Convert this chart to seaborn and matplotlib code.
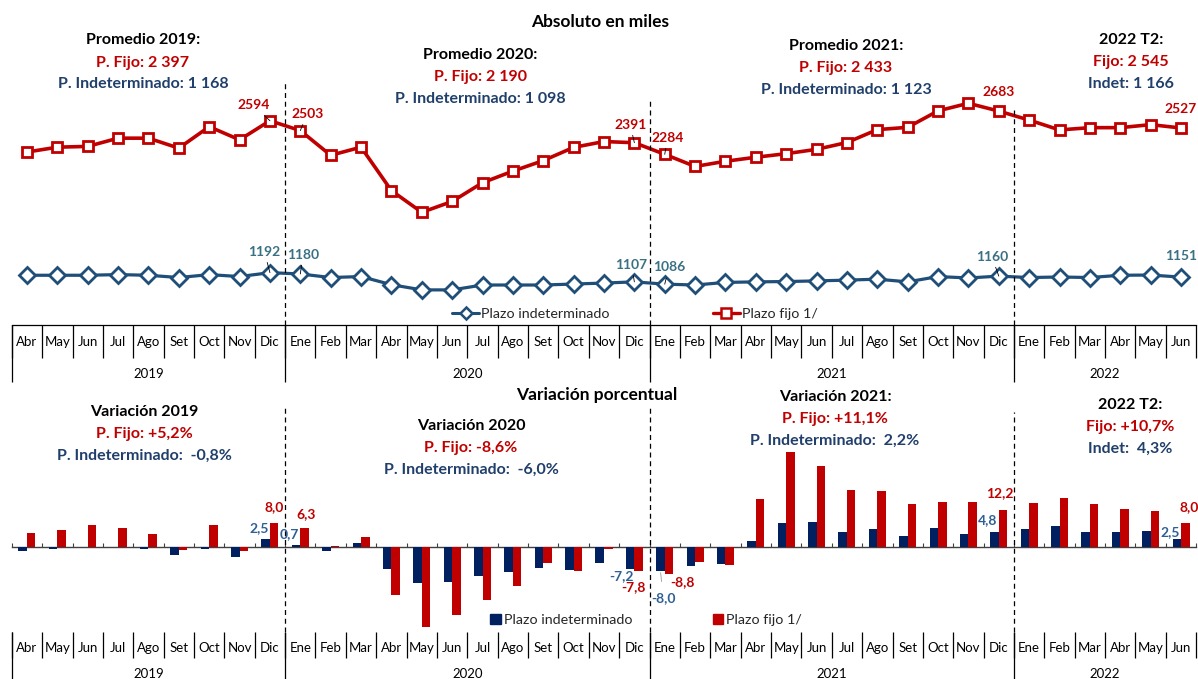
import numpy as np
import pandas as pd
import matplotlib
matplotlib.use("Agg")
import matplotlib.pyplot as plt
import seaborn as sns
from matplotlib.lines import Line2D
from matplotlib.patches import Patch

# ---------------- data ----------------
months = ["Abr", "May", "Jun", "Jul", "Ago", "Set", "Oct", "Nov", "Dic",
          "Ene", "Feb", "Mar", "Abr", "May", "Jun", "Jul", "Ago", "Set", "Oct", "Nov", "Dic",
          "Ene", "Feb", "Mar", "Abr", "May", "Jun", "Jul", "Ago", "Set", "Oct", "Nov", "Dic",
          "Ene", "Feb", "Mar", "Abr", "May", "Jun"]
years = ["2019", "2020", "2021", "2022"]
year_counts = [9, 12, 12, 6]

plazo_fijo = [2305, 2350, 2357, 2433, 2433, 2341, 2539, 2418, 2594,
              2503, 2275, 2350, 1949, 1749, 1849, 2022, 2129, 2226, 2348, 2402, 2391,
              2284, 2172, 2220, 2257, 2290, 2330, 2393, 2512, 2533, 2685, 2755, 2683,
              2600, 2509, 2530, 2530, 2558, 2527]
plazo_indet = [1168, 1168, 1168, 1174, 1168, 1147, 1174, 1156, 1192,
               1180, 1147, 1156, 1081, 1033, 1033, 1078, 1078, 1078, 1087, 1096, 1107,
               1086, 1078, 1102, 1107, 1110, 1116, 1123, 1132, 1107, 1156, 1143, 1160,
               1147, 1152, 1147, 1168, 1170, 1151]

var_indet = [-1.3, -0.8, 0.1, 0.1, -0.5, -2.6, -0.5, -3.4, 2.5,
             0.7, -1.2, 1.3, -7.3, -12.0, -11.6, -9.5, -8.3, -6.8, -7.4, -5.1, -7.2,
             -8.0, -6.2, -5.5, 2.0, 8.0, 8.1, 5.1, 5.8, 3.6, 6.3, 4.4, 4.8,
             5.8, 6.8, 4.9, 5.1, 5.2, 2.5]
var_fijo = [4.7, 5.5, 7.2, 6.4, 4.2, -1.1, 7.3, -1.3, 8.0,
            6.3, 0.2, 3.3, -15.8, -26.4, -22.4, -17.5, -12.9, -5.2, -8.0, -0.8, -7.8,
            -8.8, -5.0, -5.9, 15.8, 31.4, 26.7, 18.9, 18.3, 14.0, 14.7, 14.9, 12.2,
            14.4, 16.0, 14.2, 12.5, 11.9, 8.0]

serie_names = ["Plazo indeterminado", "Plazo fijo 1/"]

# labelled points: index -> label
lab_fijo = {8: "2594", 9: "2503", 20: "2391", 21: "2284", 32: "2683", 38: "2527"}
lab_indet = {8: "1192", 9: "1180", 20: "1107", 21: "1086", 32: "1160", 38: "1151"}
lab_var_fijo = {8: "8,0", 9: "6,3", 20: "-7,8", 21: "-8,8", 32: "12,2", 38: "8,0"}
lab_var_indet = {8: "2,5", 9: "0,7", 20: "-7,2", 21: "-8,0", 32: "4,8", 38: "2,5"}

# ---------------- styling ----------------
RED = "#C00000"
BLUE_LINE = "#1F4E79"
NAVY = "#002060"
BLUE_TXT = "#203F6B"
TEAL_TXT = "#3A7083"
BLUE_LAB = "#2E6094"

W, H = 1198, 679
sns.set_theme(style="white")
plt.rcParams["font.family"] = ["Lato", "DejaVu Sans"]

fig = plt.figure(figsize=(W / 100, H / 100), dpi=100)

def fx(px):
    return px / W

def fy(py):
    return 1 - py / H

n = len(months)
idx = np.arange(n)
bounds = np.arange(n + 1) - 0.5
starts = np.concatenate([[0], np.cumsum(year_counts)[:-1]])
year_centers = starts + (np.array(year_counts) - 1) / 2
year_bounds = starts - 0.5
inner_year_bounds = year_bounds[1:]

left = fx(11.8)
width = fx(1184.4)

# ---------------- top axes ----------------
ax1 = fig.add_axes([left, fy(325), width, 325 / H])
df_line = pd.DataFrame({
    "idx": np.concatenate([idx, idx]),
    "valor": plazo_indet + plazo_fijo,
    "serie": [serie_names[0]] * n + [serie_names[1]] * n,
})
sns.lineplot(data=df_line[df_line.serie == serie_names[1]], x="idx", y="valor",
             color=RED, lw=2.6, marker="s", markersize=7.5, markerfacecolor="white",
             markeredgecolor=RED, markeredgewidth=2.0, ax=ax1, legend=False)
sns.lineplot(data=df_line[df_line.serie == serie_names[0]], x="idx", y="valor",
             color=BLUE_LINE, lw=2.3, marker="D", markersize=7.8, markerfacecolor="white",
             markeredgecolor=BLUE_LINE, markeredgewidth=2.0, ax=ax1, legend=False)
ax1.set_xlim(-0.5, n - 0.5)
ax1.set_ylim(709, 3708)
ax1.set_xlabel("")
ax1.set_ylabel("")
ax1.set_yticks([])
for s in ["left", "right", "top"]:
    ax1.spines[s].set_visible(False)
ax1.spines["bottom"].set_color("black")
ax1.spines["bottom"].set_linewidth(0.9)

def table_axis(ax, month_pad, sep_len, year_len, year_pad):
    ax.set_xticks(idx)
    ax.set_xticklabels(months)
    ax.tick_params(axis="x", which="major", length=0, pad=month_pad, labelsize=9.5,
                   labelcolor="black", bottom=True)
    ax.set_xticks(bounds, minor=True)
    ax.tick_params(axis="x", which="minor", length=sep_len, width=0.9, color="black",
                   direction="out", bottom=True)
    sec = ax.secondary_xaxis("bottom")
    for sp in sec.spines.values():
        sp.set_visible(False)
    sec.set_xticks(year_bounds)
    sec.set_xticklabels([""] * len(year_bounds))
    sec.tick_params(axis="x", which="major", length=year_len, width=0.9, color="black",
                    direction="out")
    sec.set_xticks(year_centers, minor=True)
    sec.set_xticklabels(years, minor=True)
    sec.tick_params(axis="x", which="minor", length=0, pad=year_pad, labelsize=9.5,
                    labelcolor="black")
    return sec

table_axis(ax1, month_pad=8, sep_len=24, year_len=41, year_pad=31)

for b, ym in zip(inner_year_bounds, [0.748, 0.70, 0.67]):
    ax1.axvline(b, ymin=0, ymax=ym, color="black", lw=0.9, ls=(0, (4, 3)))

# point labels (top)
label_offsets_fijo = {8: (-12, 11), 9: (5, 12), 20: (-3, 13), 21: (2, 12), 32: (0, 14), 38: (0, 14)}
label_offsets_indet = {8: (-4, 15), 9: (2, 14), 20: (-2, 12), 21: (3, 12), 32: (-5, 14), 38: (0, 15)}
lead = {8, 9, 20, 21}
for i, t in lab_fijo.items():
    dx, dy = label_offsets_fijo[i]
    ax1.annotate(t, (i, plazo_fijo[i]), xytext=(dx, dy), textcoords="offset points",
                 ha="center", va="center", color=RED, fontsize=10, fontweight="bold",
                 arrowprops=dict(arrowstyle="-", lw=0.6, color="black", shrinkA=1, shrinkB=0)
                 if i in lead else None)
for i, t in lab_indet.items():
    dx, dy = label_offsets_indet[i]
    ax1.annotate(t, (i, plazo_indet[i]), xytext=(dx, dy), textcoords="offset points",
                 ha="center", va="center", color=TEAL_TXT, fontsize=10, fontweight="bold",
                 arrowprops=dict(arrowstyle="-", lw=0.6, color="black", shrinkA=1, shrinkB=0)
                 if i in (8, 9, 20, 21, 32) else None)

# top legend
h_top = [Line2D([], [], color=BLUE_LINE, lw=2.2, marker="D", markersize=6.5, mfc="white",
                mec=BLUE_LINE, mew=1.8),
         Line2D([], [], color=RED, lw=2.4, marker="s", markersize=7, mfc="white",
                mec=RED, mew=1.8)]
fig.legend(h_top, serie_names, loc="center left", bbox_to_anchor=(fx(452), fy(314)),
           bbox_transform=fig.transFigure, ncol=2, frameon=False, fontsize=10.3,
           borderpad=0, borderaxespad=0, handlelength=1.9, handletextpad=0.15,
           columnspacing=7.2)

# ---------------- bottom axes ----------------
ymin2, ymax2 = -27.96, 53.3
ax2 = fig.add_axes([left, fy(632), width, (632 - 385) / H])
df_bar = pd.DataFrame({
    "idx": np.concatenate([idx, idx]),
    "valor": var_indet + var_fijo,
    "serie": [serie_names[0]] * n + [serie_names[1]] * n,
})
sns.barplot(data=df_bar, x="idx", y="valor", hue="serie", hue_order=serie_names,
            palette=[NAVY, RED], saturation=1, width=0.56, gap=0, dodge=True,
            linewidth=0, ax=ax2, legend=False, errorbar=None)
ax2.set_xlim(-0.5, n - 0.5)
ax2.set_ylim(ymin2, ymax2)
ax2.set_xlabel("")
ax2.set_ylabel("")
ax2.set_yticks([])
for s in ax2.spines.values():
    s.set_visible(False)

table_axis(ax2, month_pad=7, sep_len=19, year_len=34, year_pad=26)

# zero line with small ticks
zloc = (0 - ymin2) / (ymax2 - ymin2)
zax = ax2.secondary_xaxis(zloc)
zax.spines["bottom"].set_color("#404040")
zax.spines["bottom"].set_linewidth(1.0)
for k in ["top", "left", "right"]:
    if k in zax.spines:
        zax.spines[k].set_visible(False)
zax.set_xticks(bounds)
zax.set_xticklabels([""] * len(bounds))
zax.tick_params(axis="x", which="major", length=3, width=0.8, color="#404040", direction="in")
zax.tick_params(axis="x", which="minor", length=0)

for b, ym in zip(inner_year_bounds, [0.907, 0.907, 0.89]):
    ax2.axvline(b, ymin=0, ymax=ym, color="black", lw=0.9, ls=(0, (4, 3)))

# bar labels
bars_indet = ax2.containers[0]
bars_fijo = ax2.containers[1]
off_vf = {8: (0, 11), 9: (1, 10), 20: (-4, -12), 21: (10, -6), 32: (-2, 12), 38: (3, 11)}
off_vi = {8: (-5, 8), 9: (-5, 8), 20: (-6, -5), 21: (2, -19), 32: (-5, 9), 38: (-5, 5)}
for i, t in lab_var_fijo.items():
    r = bars_fijo[i]
    dx, dy = off_vf[i]
    ax2.annotate(t, (r.get_x() + r.get_width() / 2, r.get_height()), xytext=(dx, dy),
                 textcoords="offset points", ha="center", va="center", color=RED,
                 fontsize=10, fontweight="bold")
for i, t in lab_var_indet.items():
    r = bars_indet[i]
    dx, dy = off_vi[i]
    ax2.annotate(t, (r.get_x() + r.get_width() / 2, r.get_height()), xytext=(dx, dy),
                 textcoords="offset points", ha="center", va="center", color=BLUE_LAB,
                 fontsize=10, fontweight="bold",
                 arrowprops=dict(arrowstyle="-", lw=0.6, color="#999999", shrinkA=5, shrinkB=1)
                 if i == 21 else None)

# bottom legend
h_bot = [Patch(color=NAVY), Patch(color=RED)]
fig.legend(h_bot, serie_names, loc="center left", bbox_to_anchor=(fx(490.5), fy(620)),
           bbox_transform=fig.transFigure, ncol=2, frameon=False, fontsize=10.3,
           borderpad=0, borderaxespad=0, handlelength=0.75, handleheight=0.75,
           handletextpad=0.2, columnspacing=5.6)

# ---------------- annotation texts ----------------
def block(x, y0, lines, size=11.5, step=22):
    for k, (t, c) in enumerate(lines):
        fig.text(fx(x), fy(y0 + k * step), t, ha="center", va="center", color=c,
                 fontsize=size, fontweight="bold")

fig.text(fx(600), fy(22), "Absoluto en miles", ha="center", va="center",
         fontsize=12.5, fontweight="bold", color="black")
fig.text(fx(597), fy(395), "Variación porcentual", ha="center", va="center",
         fontsize=12.5, fontweight="bold", color="black")

block(143, 40.5, [("Promedio 2019:", "black"), ("P. Fijo: 2 397", RED),
                  ("P. Indeterminado: 1 168", BLUE_TXT)])
block(480, 55, [("Promedio 2020:", "black"), ("P. Fijo: 2 190", RED),
                ("P. Indeterminado: 1 098", BLUE_TXT)])
block(846, 46, [("Promedio 2021:", "black"), ("P. Fijo: 2 433", RED),
                ("P. Indeterminado: 1 123", BLUE_TXT)])
block(1131, 40, [("2022 T2:", "black"), ("Fijo: 2 545", RED),
                 ("Indet: 1 166", BLUE_TXT)])

block(144, 412, [("Variación 2019", "black"), ("P. Fijo: +5,2%", RED),
                 ("P. Indeterminado:  -0,8%", BLUE_TXT)])
block(471, 426, [("Variación 2020", "black"), ("P. Fijo: -8,6%", RED),
                 ("P. Indeterminado:  -6,0%", BLUE_TXT)])
block(835, 397, [("Variación 2021:", "black"), ("P. Fijo: +11,1%", RED),
                 ("P. Indeterminado:  2,2%", BLUE_TXT)])
block(1130, 405, [("2022 T2:", "black"), ("Fijo: +10,7%", RED),
                  ("Indet:  4,3%", BLUE_TXT)])

fig.savefig("out.png", dpi=100, facecolor="white")
